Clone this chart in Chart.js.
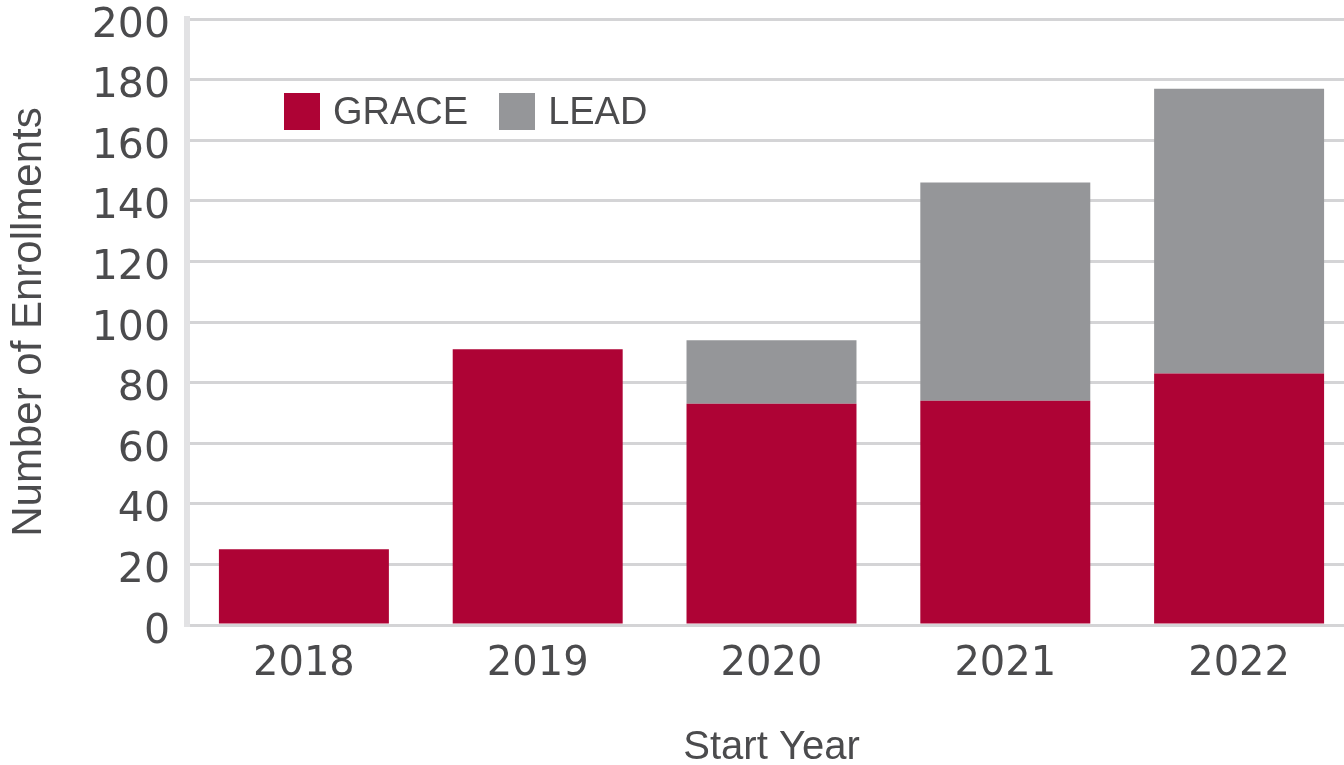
<!DOCTYPE html>
<html>
<head>
<meta charset="utf-8">
<script src="https://cdn.jsdelivr.net/npm/chart.js@4.4.1/dist/chart.umd.min.js"></script>
<style>
    html, body { margin: 0; padding: 0; background: #fff; overflow: hidden; }
    #wrap { position: relative; width: 1344px; height: 765px; overflow: hidden; }
    #enrollChart { position: absolute; left: 0; top: 0; }
    #legend { position: absolute; left: 284px; top: 93px; display: flex; align-items: center; }
    .item { display: flex; align-items: center; margin-right: 31px; }
    .swatch { width: 36px; height: 37px; margin-right: 13px; }
    .lbl { font-family: "Liberation Sans", Arial, sans-serif; font-size: 38px; line-height: 37px; color: #4b4b4d; }
</style>
</head>
<body>
<div id="wrap">
    <canvas id="enrollChart" width="1362" height="810"></canvas>
    <div id="legend"></div>
</div>
<script>
var years = ["2018", "2019", "2020", "2021", "2022"];
var grace = [25, 91, 73, 74, 83];
var lead = [null, null, 21, 72, 94];
var yMin = 0, yMax = 200, yStep = 20;

var textColor = '#4b4b4d';

var ctx = document.getElementById("enrollChart");
var enrollChart = new Chart(ctx, {
    type: 'bar',
    data: {
        labels: years,
        datasets: [{
            label: 'GRACE',
            data: grace,
            backgroundColor: '#ae0335',
            barPercentage: 1,
            categoryPercentage: 0.727
        }, {
            label: 'LEAD',
            data: lead,
            backgroundColor: '#959699',
            barPercentage: 1,
            categoryPercentage: 0.727
        }]
    },
    options: {
        responsive: false,
        animation: false,
        devicePixelRatio: 1,
        layout: { padding: { right: 6 } },
        plugins: {
            legend: { display: false },
            tooltip: { enabled: false }
        },
        scales: {
            x: {
                stacked: true,
                grid: { display: false },
                border: { display: false },
                ticks: {
                    color: textColor,
                    padding: 8,
                    maxRotation: 0,
                    font: { family: 'DejaVu Sans', size: 40 }
                },
                title: {
                    display: true,
                    text: 'Start Year',
                    color: textColor,
                    padding: 38,
                    font: { family: 'Liberation Sans', size: 40 }
                },
                afterFit: function (scale) {
                    scale.height = 185;
                }
            },
            y: {
                stacked: true,
                min: yMin,
                max: yMax,
                ticks: {
                    stepSize: yStep,
                    color: textColor,
                    padding: 17,
                    labelOffset: 7,
                    font: { family: 'DejaVu Sans', size: 41, lineHeight: 1 }
                },
                grid: { color: '#d4d4d6', lineWidth: 3, drawTicks: false },
                border: { color: '#e2e2e4', width: 6 },
                title: {
                    display: true,
                    text: 'Number of Enrollments',
                    color: textColor,
                    padding: 4,
                    font: { family: 'Liberation Sans', size: 42 }
                },
                afterFit: function (scale) {
                    scale.width = 187;
                    scale.paddingTop = 19;
                    scale.paddingBottom = 0;
                }
            }
        }
    }
});

// legend sits inside the plot, top left
var legend = document.getElementById("legend");
enrollChart.data.datasets.forEach(function (ds) {
    var item = document.createElement("div");
    item.className = "item";
    var sw = document.createElement("div");
    sw.className = "swatch";
    sw.style.background = ds.backgroundColor;
    var lbl = document.createElement("span");
    lbl.className = "lbl";
    lbl.textContent = ds.label;
    item.appendChild(sw);
    item.appendChild(lbl);
    legend.appendChild(item);
});
</script>
</body>
</html>
